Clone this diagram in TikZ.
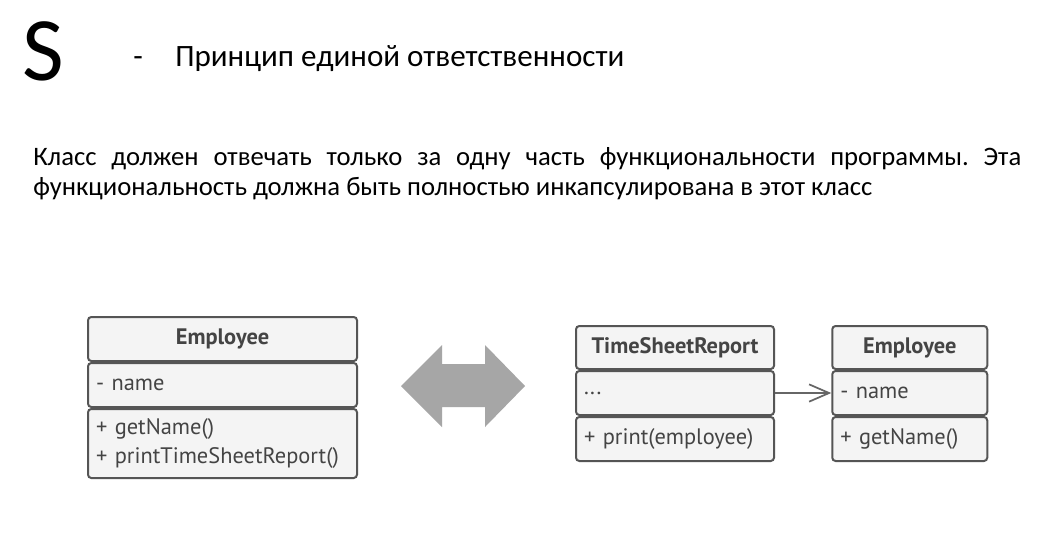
\documentclass[tikz,border=0pt]{standalone}
\usepackage{fontspec}
\setmainfont{Carlito}
\newfontfamily\umlfont{PT Sans}
\usetikzlibrary{arrows.meta, positioning}
\definecolor{umlline}{HTML}{555555}
\definecolor{umlfill}{HTML}{F4F4F4}
\definecolor{umltext}{HTML}{444444}
\definecolor{bigarrow}{HTML}{A6A6A6}
\definecolor{linkgray}{HTML}{666666}
\frenchspacing

\begin{document}
\begin{tikzpicture}[x=0.75pt, y=-0.75pt,
    part/.style={draw=umlline, line width=1.5pt, fill=umlfill, rounded corners=2.5pt, inner sep=0pt, text=umltext, font=\umlfont\fontsize{16.8}{21.75}\selectfont},
    headpart/.style={part, font=\umlfont\bfseries\fontsize{16.8}{20}\selectfont},
    memberpart/.style={part, align=left, inner xsep=6pt},
    link/.style={-{Straight Barb[length=15pt, width=13pt, line width=1.3pt]}, draw=linkgray, line width=1.4pt}
]
\useasboundingbox[fill=white] (0,0) rectangle (1045,537);

% Title
\node[anchor=base west, inner sep=0pt, font=\fontsize{68}{68}\selectfont] (letter) at (22,80) {S};
\node[anchor=base west, inner sep=0pt, font=\fontsize{23.3}{28}\selectfont] (dash) at (133,66) {-};
\node[anchor=base west, inner sep=0pt, font=\fontsize{23.3}{28}\selectfont] (title) at (175,66) {Принцип единой ответственности};

% Description
\node[anchor=base west, inner sep=0pt, text width=741pt, align=justify, font=\fontsize{20}{22.5}\selectfont] (desc) at (33,165)
    {Класс должен отвечать только за одну часть функциональности программы. Эта\linebreak
     функциональность должна быть полностью инкапсулирована в этот класс};

% Employee before
\node[headpart, minimum width=201.75pt, minimum height=33pt] (emp-head) at (222.5,339) {Employee};
\node[memberpart, text width=189.75pt, minimum height=33pt] (emp-attr) at (222.5,385) {- name};
\node[memberpart, text width=189.75pt, minimum height=51.75pt] (emp-ops) at (222.5,443.5) {+ getName()\\+ printTimeSheetReport()};

% Double arrow
\fill[bigarrow] (401,386) -- (442,345) -- (442,364) -- (485,364) -- (485,345) -- (525,386)
    -- (485,427) -- (485,407) -- (442,407) -- (442,427) -- cycle;

% TimeSheetReport
\node[headpart, minimum width=148.5pt, minimum height=32.25pt] (tsr-head) at (675,347.5) {TimeSheetReport};
\node[memberpart, text width=136.5pt, minimum height=33pt] (tsr-attr) at (675,393) {...};
\node[memberpart, text width=136.5pt, minimum height=33pt] (tsr-ops) at (675,439) {+ print(employee)};

% Employee after
\node[headpart, minimum width=116.25pt, minimum height=32.25pt] (emp2-head) at (909.75,347.5) {Employee};
\node[memberpart, text width=104.25pt, minimum height=33pt] (emp2-attr) at (909.75,393) {- name};
\node[memberpart, text width=104.25pt, minimum height=33pt] (emp2-ops) at (909.75,439) {+ getName()};

\draw[link] (tsr-attr.east) -- (emp2-attr.west);
\end{tikzpicture}
\end{document}
